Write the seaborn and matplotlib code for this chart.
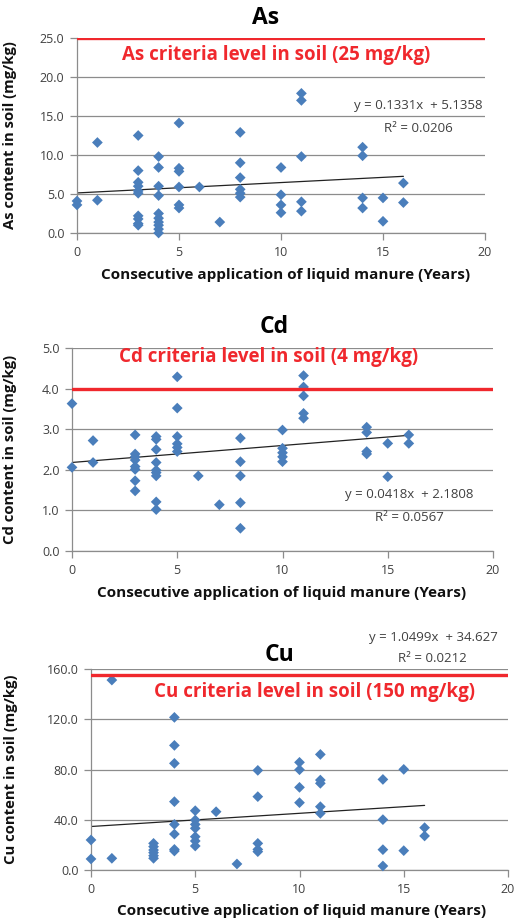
import numpy as np
import pandas as pd
import matplotlib
matplotlib.use("Agg")
import matplotlib.pyplot as plt
import seaborn as sns

sns.set_theme(style="white")
plt.rcParams['font.family'] = ['Open Sans', 'DejaVu Sans']

# ---------------- data ----------------
as_years = [0, 0, 1, 1,
            3, 3, 3, 3, 3, 3, 3, 3, 3, 3,
            4, 4, 4, 4, 4, 4, 4, 4, 4, 4,
            5, 5, 5, 5, 5, 5, 6, 7,
            8, 8, 8, 8, 8, 8,
            10, 10, 10, 10,
            11, 11, 11, 11, 11,
            14, 14, 14, 14, 15, 15, 16, 16]
as_vals = [4.1, 3.6, 11.6, 4.2,
           12.5, 8.0, 6.5, 6.0, 5.4, 5.1, 2.2, 1.8, 1.2, 1.0,
           9.8, 8.4, 6.0, 4.8, 2.5, 1.9, 1.4, 1.0, 0.5, 0.0,
           14.1, 8.3, 7.9, 5.9, 3.6, 3.2, 5.9, 1.4,
           12.9, 9.0, 7.1, 5.6, 5.1, 4.6,
           8.4, 4.9, 3.6, 2.6,
           17.9, 17.0, 9.8, 4.0, 2.8,
           11.0, 9.9, 4.5, 3.2, 4.5, 1.5, 6.4, 3.9]

cd_years = [0, 0, 1, 1,
            3, 3, 3, 3, 3, 3, 3, 3,
            4, 4, 4, 4, 4, 4, 4, 4, 4,
            5, 5, 5, 5, 5, 5, 6, 7,
            8, 8, 8, 8, 8,
            10, 10, 10, 10, 10,
            11, 11, 11, 11, 11,
            14, 14, 14, 14, 15, 15, 16, 16]
cd_vals = [3.63, 2.06, 2.72, 2.18,
           2.86, 2.39, 2.32, 2.24, 2.08, 2.01, 1.73, 1.48,
           2.82, 2.75, 2.50, 2.18, 1.99, 1.93, 1.85, 1.21, 1.02,
           4.29, 3.52, 2.82, 2.64, 2.55, 2.45, 1.85, 1.14,
           2.78, 2.20, 1.85, 1.19, 0.56,
           2.98, 2.53, 2.42, 2.32, 2.20,
           4.32, 4.04, 3.82, 3.39, 3.27,
           3.05, 2.92, 2.45, 2.39, 2.65, 1.83, 2.86, 2.65]

cu_years = [0, 0, 1, 1,
            3, 3, 3, 3, 3, 3,
            4, 4, 4, 4, 4, 4, 4, 4,
            5, 5, 5, 5, 5, 5, 5, 6, 7,
            8, 8, 8, 8, 8,
            10, 10, 10, 10,
            11, 11, 11, 11, 11,
            14, 14, 14, 14, 15, 15, 16, 16]
cu_vals = [23.9, 8.8, 151.2, 9.3,
           21.2, 18.6, 15.9, 13.8, 11.4, 9.3,
           121.5, 99.2, 84.9, 54.4, 36.3, 28.6, 16.4, 15.1,
           47.2, 39.8, 36.3, 33.2, 26.5, 23.1, 19.1, 46.4, 4.8,
           79.3, 58.4, 21.2, 16.4, 14.6,
           85.7, 79.8, 65.8, 53.6,
           92.0, 71.6, 69.0, 50.4, 45.1,
           72.1, 40.1, 16.2, 3.2, 80.1, 15.4, 33.7, 27.1]

metals = ["As", "Cd", "Cu"]
criteria_labels = ["As criteria level in soil (25 mg/kg)",
                   "Cd criteria level in soil (4 mg/kg)",
                   "Cu criteria level in soil (150 mg/kg)"]
criteria_lines = [25, 4.0, 155]
slopes = [0.1331, 0.0418, 1.0499]
intercepts = [5.1358, 2.1808, 34.627]
eq_texts = ["y = 0.1331x  + 5.1358", "y = 0.0418x  + 2.1808", "y = 1.0499x  + 34.627"]
r2_texts = ["R² = 0.0206", "R² = 0.0567", "R² = 0.0212"]
y_ticks = [[0, 5, 10, 15, 20, 25], [0, 1, 2, 3, 4, 5], [0, 40, 80, 120, 160]]
x_ticks = [0, 5, 10, 15, 20]

data = [(as_years, as_vals), (cd_years, cd_vals), (cu_years, cu_vals)]

# ---------------- layout ----------------
W, H = 516, 922
fig = plt.figure(figsize=(W / 100, H / 100), dpi=100)

# axes boxes in pixels: left, top, right, bottom
boxes = [(77, 38, 485, 233), (72, 348, 493, 551), (91, 669, 508, 870)]
title_pos = [(266, 18), (274, 327), (280, 655)]
xlabel_pos = [(286, 275), (282, 593), (302, 911)]
ylabel_x = [17, 17, 18]
red_pos = [(276, 55), (269, 357), (315, 692)]
eq_pos = [(482, 105), (473, 494), (498, 637)]
r2_pos = [(418, 129), (409, 517), (432, 659)]

blue = "#4A7EBB"
red = "#F0282D"
grid_c = "#8C8C8C"

def fx(px):
    return px / W

def fy(py):
    return 1 - py / H

for i, m in enumerate(metals):
    l, t, r, b = boxes[i]
    ax = fig.add_axes([fx(l), fy(b), fx(r) - fx(l), fy(t) - fy(b)])
    df = pd.DataFrame({"years": data[i][0], "val": data[i][1]})
    sns.scatterplot(data=df, x="years", y="val", marker="D", s=30,
                    color=blue, edgecolor="none", linewidth=0, ax=ax, zorder=3,
                    clip_on=False)
    # trend line from the published regression equation
    xs = np.array([min(data[i][0]), max(data[i][0])], dtype=float)
    ax.plot(xs, slopes[i] * xs + intercepts[i], color="#222222", lw=0.9, zorder=2)
    ax.axhline(criteria_lines[i], color=red, lw=2.4, zorder=4)

    ax.set_xlim(0, 20)
    ax.set_ylim(y_ticks[i][0], y_ticks[i][-1])
    ax.set_xticks(x_ticks)
    ax.set_yticks(y_ticks[i])
    ax.set_yticklabels([f"{v:.1f}" for v in y_ticks[i]])
    ax.set_xticklabels([str(v) for v in x_ticks])
    ax.yaxis.grid(True, color=grid_c, lw=0.9)
    ax.xaxis.grid(False)
    ax.set_axisbelow(True)
    for s in ["top", "right"]:
        ax.spines[s].set_visible(False)
    for s in ["left", "bottom"]:
        ax.spines[s].set_color(grid_c)
        ax.spines[s].set_linewidth(0.9)
    ax.tick_params(axis="both", which="both", direction="out", length=5,
                   width=0.9, color=grid_c, labelsize=9, labelcolor="#404040",
                   left=True, bottom=True, pad=4)
    ax.set_xlabel("")
    ax.set_ylabel(f"{m} content in soil (mg/kg)", fontsize=10.75,
                  fontweight="bold", color="#111111")
    ax.yaxis.set_label_coords((ylabel_x[i] - l) / (r - l), 0.5)

    fig.text(fx(title_pos[i][0]), fy(title_pos[i][1]), m, ha="center", va="center",
             fontsize=16.5, fontweight="bold", color="black")
    fig.text(fx(xlabel_pos[i][0]), fy(xlabel_pos[i][1]),
             "Consecutive application of liquid manure (Years)",
             ha="center", va="center", fontsize=11, fontweight="bold", color="#111111")
    fig.text(fx(red_pos[i][0]), fy(red_pos[i][1]), criteria_labels[i],
             ha="center", va="center", fontsize=13.5, fontweight="bold", color=red)
    fig.text(fx(eq_pos[i][0]), fy(eq_pos[i][1]), eq_texts[i],
             ha="right", va="center", fontsize=9.5, color="#404040")
    fig.text(fx(r2_pos[i][0]), fy(r2_pos[i][1]), r2_texts[i],
             ha="center", va="center", fontsize=9.5, color="#404040")

fig.savefig("out.png", dpi=100)
